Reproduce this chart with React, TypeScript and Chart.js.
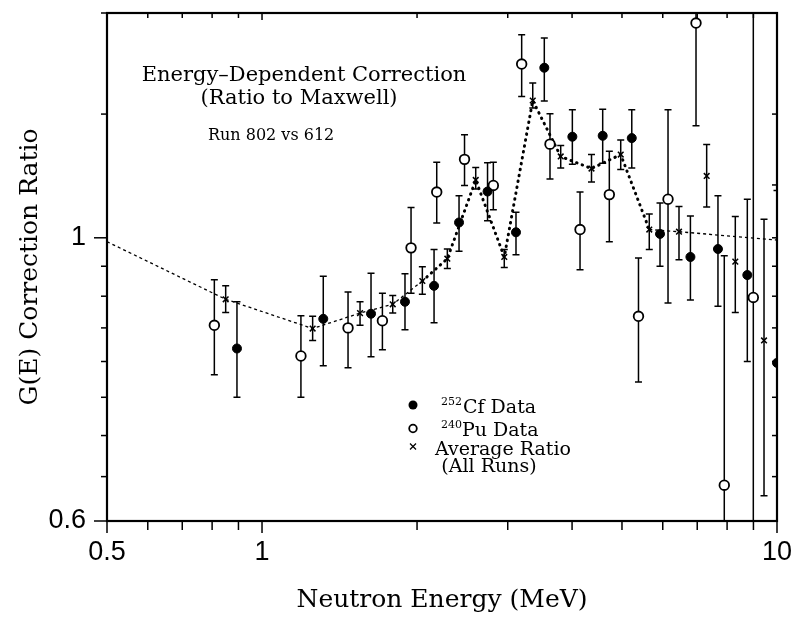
import React, { useEffect, useRef } from 'react';
import { Chart, registerables } from 'chart.js';

Chart.register(...registerables);

// ---- Axis ticks ----
const xTicks = [0.5, 0.6, 0.7, 0.8, 0.9, 1, 2, 3, 4, 5, 6, 7, 8, 9, 10];
const xLabelled = [0.5, 1, 10];
const yTicks = [0.6, 0.65, 0.7, 0.75, 0.8, 0.85, 0.9, 0.95, 1, 1.25, 1.5];
const yRightTicks = [0.6, 0.65, 0.7, 0.75, 0.8, 0.85, 0.9, 0.95, 1, 1.1, 1.25, 1.5];
const yLabelled = [0.6, 1];

// ---- 252Cf data (filled circles) ----
const cfEnergy = [0.894, 1.315, 1.628, 1.895, 2.158, 2.413, 2.741, 3.113, 3.533, 4.005, 4.587, 5.224, 5.927, 6.79, 7.68, 8.757, 10.0];
const cfRatio = [0.819, 0.864, 0.872, 0.891, 0.917, 1.028, 1.087, 1.010, 1.359, 1.200, 1.202, 1.197, 1.007, 0.966, 0.980, 0.935, 0.798];
const cfLow = [0.750, 0.794, 0.807, 0.847, 0.858, 0.976, 1.031, 0.970, 1.280, 1.142, 1.144, 1.134, 0.950, 0.894, 0.884, 0.800, 0.55];
const cfHigh = [0.891, 0.933, 0.938, 0.937, 0.979, 1.079, 1.145, 1.047, 1.434, 1.260, 1.261, 1.260, 1.065, 1.040, 1.079, 1.072, 1.089];

// ---- 240Pu data (open circles) ----
const puEnergy = [0.808, 1.190, 1.469, 1.713, 1.947, 2.184, 2.473, 2.813, 3.193, 3.624, 4.145, 4.725, 5.383, 6.143, 6.962, 7.90, 8.995];
const puRatio = [0.854, 0.808, 0.850, 0.861, 0.982, 1.086, 1.152, 1.099, 1.368, 1.184, 1.015, 1.081, 0.868, 1.072, 1.473, 0.640, 0.898];
const puLow = [0.781, 0.750, 0.791, 0.817, 0.905, 1.027, 1.099, 1.052, 1.290, 1.112, 0.944, 0.993, 0.771, 0.889, 1.224, 0.5, 0.5];
const puHigh = [0.927, 0.869, 0.907, 0.905, 1.056, 1.146, 1.204, 1.146, 1.442, 1.251, 1.086, 1.169, 0.964, 1.260, 1.6, 0.968, 1.6];

// ---- Average ratio (all runs, crosses) ----
const avgEnergy = [0.850, 1.254, 1.550, 1.794, 2.048, 2.290, 2.600, 2.954, 3.355, 3.802, 4.363, 4.972, 5.649, 6.452, 7.302, 8.299, 9.436];
const avgRatio = [0.895, 0.849, 0.873, 0.887, 0.925, 0.963, 1.110, 0.966, 1.281, 1.158, 1.133, 1.162, 1.015, 1.011, 1.118, 0.958, 0.831];
const avgLow = [0.874, 0.831, 0.854, 0.873, 0.903, 0.946, 1.092, 0.948, 1.264, 1.134, 1.106, 1.131, 0.979, 0.961, 1.057, 0.874, 0.628];
const avgHigh = [0.917, 0.868, 0.891, 0.901, 0.949, 0.980, 1.135, 0.979, 1.322, 1.181, 1.162, 1.193, 1.044, 1.058, 1.183, 1.039, 1.034];

// ---- Dotted correction curve ----
const fitEnergy = [0.5, 0.850, 1.254, 1.550, 1.794, 2.048, 2.290, 2.600, 2.954, 3.355, 3.802, 4.363, 4.972, 5.649, 6.452, 10];
const fitRatio = [0.993, 0.895, 0.849, 0.873, 0.887, 0.925, 0.963, 1.110, 0.966, 1.281, 1.158, 1.133, 1.162, 1.015, 1.011, 0.996];

// ---- Texts ----
const xTitle = 'Neutron Energy (MeV)';
const yTitle = 'G(E) Correction Ratio';
const noteLine1 = 'Energy\u2013Dependent Correction';
const noteLine2 = '(Ratio to Maxwell)';
const noteLine3 = 'Run 802 vs 612';
const legendCf = ['252', 'Cf Data'];
const legendPu = ['240', 'Pu Data'];
const legendAvg = ['Average Ratio', '(All Runs)'];

const SERIF = "'DejaVu Serif'";

export default function App() {
  const ref = useRef<HTMLCanvasElement>(null);

  useEffect(() => {
    const canvas = ref.current;
    if (!canvas) return;

    const errorSets = [
      { e: cfEnergy, lo: cfLow, hi: cfHigh },
      { e: puEnergy, lo: puLow, hi: puHigh },
      { e: avgEnergy, lo: avgLow, hi: avgHigh },
    ];

    const errorBars = {
      id: 'errorBars',
      beforeDatasetsDraw(chart: any) {
        const { ctx, chartArea: a, scales } = chart;
        const xs = scales.x, ys = scales.y;
        ctx.save();
        ctx.beginPath();
        ctx.rect(a.left, a.top, a.right - a.left, a.bottom - a.top);
        ctx.clip();
        ctx.strokeStyle = '#000';
        ctx.lineWidth = 1.5;
        for (const s of errorSets) {
          for (let i = 0; i < s.e.length; i++) {
            const px = xs.getPixelForValue(s.e[i]);
            const p1 = ys.getPixelForValue(s.lo[i]);
            const p2 = ys.getPixelForValue(s.hi[i]);
            ctx.beginPath();
            ctx.moveTo(px, p1);
            ctx.lineTo(px, p2);
            ctx.moveTo(px - 3.5, p1);
            ctx.lineTo(px + 3.5, p1);
            ctx.moveTo(px - 3.5, p2);
            ctx.lineTo(px + 3.5, p2);
            ctx.stroke();
          }
        }
        ctx.restore();
      },
    };

    const decor = {
      id: 'decor',
      afterDatasetsDraw(chart: any) {
        const { ctx, chartArea: a, scales } = chart;
        const xs = scales.x, ys = scales.y;
        ctx.save();
        ctx.strokeStyle = '#000';
        ctx.fillStyle = '#000';
        const seg = (x1: number, y1: number, x2: number, y2: number) => {
          ctx.beginPath();
          ctx.moveTo(x1, y1);
          ctx.lineTo(x2, y2);
          ctx.stroke();
        };
        ctx.lineWidth = 1.5;
        for (const v of xTicks) {
          const px = xs.getPixelForValue(v);
          const major = xLabelled.includes(v);
          seg(px, a.bottom, px, a.bottom + (major ? 12 : 9));
          seg(px, a.top, px, a.top + (major ? 7 : 5));
        }
        for (const v of yTicks) {
          const py = ys.getPixelForValue(v);
          const major = yLabelled.includes(v);
          seg(a.left - (major ? 13 : 6), py, a.left, py);
        }
        for (const v of yRightTicks) {
          const py = ys.getPixelForValue(v);
          seg(a.right - 5, py, a.right, py);
        }
        ctx.lineWidth = 2.2;
        ctx.strokeRect(a.left, a.top, a.right - a.left, a.bottom - a.top);

        // annotation
        ctx.textBaseline = 'alphabetic';
        ctx.textAlign = 'center';
        ctx.font = `21px ${SERIF}`;
        ctx.fillText(noteLine1, 304, 81);
        ctx.fillText(noteLine2, 299, 104);
        ctx.textAlign = 'left';
        ctx.font = `16px ${SERIF}`;
        ctx.fillText(noteLine3, 208, 140);

        // legend
        ctx.beginPath();
        ctx.arc(413, 405, 4.5, 0, Math.PI * 2);
        ctx.fill();
        ctx.lineWidth = 1.8;
        ctx.beginPath();
        ctx.arc(413, 428.5, 3.8, 0, Math.PI * 2);
        ctx.stroke();
        ctx.lineWidth = 1.3;
        seg(410, 443.5, 416, 449.5);
        seg(416, 443.5, 410, 449.5);

        ctx.textAlign = 'left';
        ctx.font = `11px ${SERIF}`;
        ctx.fillText(legendCf[0], 441, 405);
        ctx.fillText(legendPu[0], 441, 428);
        ctx.font = `19px ${SERIF}`;
        ctx.fillText(legendCf[1], 463, 413);
        ctx.fillText(legendPu[1], 462, 436);
        ctx.textAlign = 'center';
        ctx.fillText(legendAvg[0], 503, 455);
        ctx.fillText(legendAvg[1], 489, 472);
        ctx.restore();
      },
    };

    const toPts = (xsArr: number[], ysArr: number[]) => xsArr.map((x, i) => ({ x, y: ysArr[i] }));
    const zeroPad = (s: any) => {
      s.paddingTop = 0;
      s.paddingBottom = 0;
      s.paddingLeft = 0;
      s.paddingRight = 0;
    };

    const chart = new Chart(canvas, {
      type: 'scatter',
      data: {
        datasets: [
          {
            label: '252Cf Data',
            data: toPts(cfEnergy, cfRatio),
            pointStyle: 'circle',
            pointRadius: 4.5,
            pointBackgroundColor: '#000',
            pointBorderColor: '#000',
            pointBorderWidth: 1,
            showLine: false,
          },
          {
            label: '240Pu Data',
            data: toPts(puEnergy, puRatio),
            pointStyle: 'circle',
            pointRadius: 4.8,
            pointBackgroundColor: '#fff',
            pointBorderColor: '#000',
            pointBorderWidth: 1.8,
            showLine: false,
          },
          {
            label: 'Average Ratio (All Runs)',
            data: toPts(avgEnergy, avgRatio),
            pointStyle: 'crossRot',
            pointRadius: 4,
            pointBorderColor: '#000',
            pointBorderWidth: 1.5,
            showLine: false,
          },
          {
            label: 'Correction',
            data: toPts(fitEnergy, fitRatio),
            showLine: true,
            pointRadius: 0,
            borderColor: '#000',
            borderWidth: 1.3,
            borderDash: [3, 3],
            tension: 0,
            segment: {
              borderWidth: (c: any) => (c.p0DataIndex >= 5 && c.p0DataIndex <= 12 ? 3 : 1.3),
              borderDash: (c: any) => (c.p0DataIndex >= 5 && c.p0DataIndex <= 12 ? [0.5, 5.5] : [3, 3]),
              borderCapStyle: (c: any) => (c.p0DataIndex >= 5 && c.p0DataIndex <= 12 ? 'round' : 'butt'),
            },
          } as any,
        ],
      },
      options: {
        responsive: false,
        animation: false,
        devicePixelRatio: 1,
        layout: { padding: { top: 13, right: 19, bottom: 0, left: 0 } },
        plugins: {
          legend: { display: false },
          tooltip: { enabled: false },
        },
        scales: {
          x: {
            type: 'logarithmic',
            position: 'bottom',
            min: 0.5,
            max: 10,
            grid: { display: false, drawTicks: false },
            border: { display: false },
            afterBuildTicks: (s: any) => {
              s.ticks = xTicks.map((v) => ({ value: v }));
            },
            afterFit: (s: any) => {
              s.height = 97;
              zeroPad(s);
            },
            ticks: {
              autoSkip: false,
              maxRotation: 0,
              padding: 15,
              color: '#000',
              font: { family: "'Liberation Sans'", size: 27 },
              callback: (v: any) => (xLabelled.includes(Number(v)) ? String(v) : null),
            },
            title: {
              display: true,
              text: xTitle,
              color: '#000',
              font: { family: SERIF, size: 25 },
              padding: { top: 0, bottom: 3 },
            },
          },
          y: {
            type: 'logarithmic',
            position: 'left',
            min: 0.6,
            max: 1.5,
            grid: { display: false, drawTicks: false },
            border: { display: false },
            afterBuildTicks: (s: any) => {
              s.ticks = yTicks.map((v) => ({ value: v }));
            },
            afterFit: (s: any) => {
              s.width = 107;
              zeroPad(s);
            },
            ticks: {
              autoSkip: false,
              padding: 21,
              color: '#000',
              font: { family: "'Liberation Sans'", size: 27 },
              callback: (v: any) => (yLabelled.includes(Number(v)) ? String(v) : null),
            },
            title: {
              display: true,
              text: yTitle,
              color: '#000',
              font: { family: SERIF, size: 25 },
              padding: { top: 15, bottom: 0 },
            },
          },
        },
      } as any,
      plugins: [errorBars, decor],
    });

    return () => chart.destroy();
  }, []);

  return (
    <div style={{ position: 'fixed', left: 0, top: 0, width: 796, height: 618, background: '#fff' }}>
      <canvas ref={ref} width={796} height={618} style={{ display: 'block', width: 796, height: 618 }} />
    </div>
  );
}
